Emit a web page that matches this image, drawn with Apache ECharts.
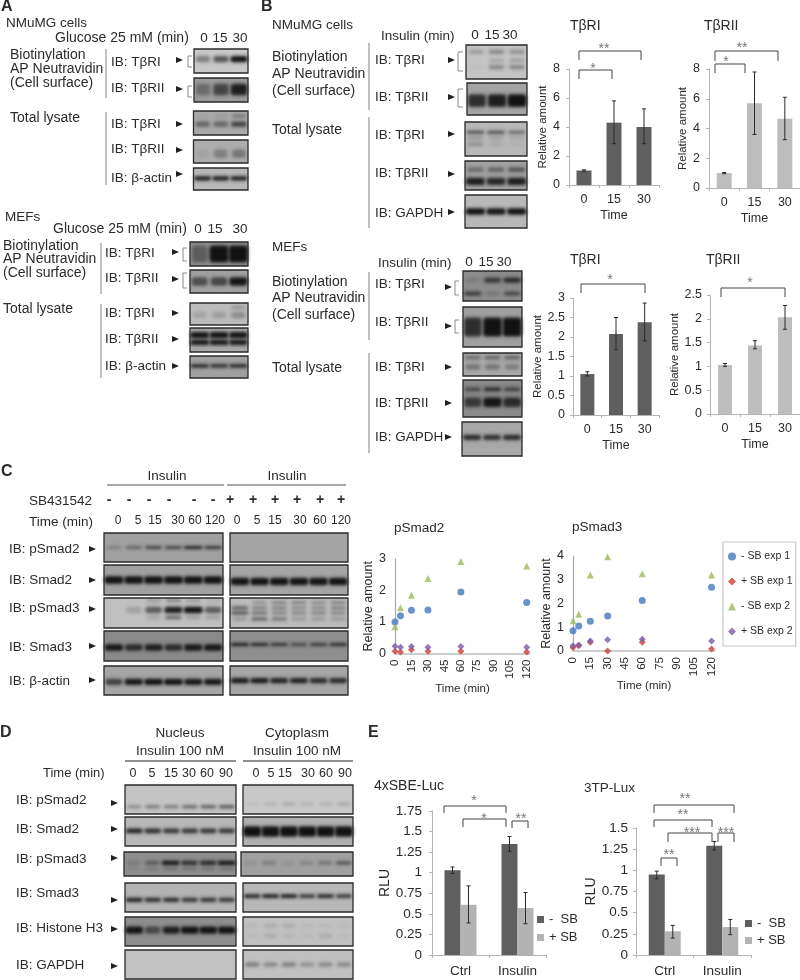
<!DOCTYPE html>
<html><head><meta charset="utf-8">
<style>html,body{margin:0;padding:0;background:#fff}#c{width:800px;height:980px}</style>
<script src="https://cdn.jsdelivr.net/npm/echarts@6/dist/echarts.min.js"></script>
</head><body><div id="c"></div>
<script>
// ---------- chart values ----------
const timeCats = ['0','15','30'];
const nmumgR1 = [1, 4.3, 4.0],      nmumgR1Low = [0.95, 2.85, 2.85], nmumgR1High = [1.05, 5.8, 5.25];
const nmumgR2 = [1, 5.7, 4.65],     nmumgR2Low = [0.96, 3.6, 3.25],  nmumgR2High = [1.04, 7.8, 6.1];
const mefR1 = [1.05, 2.08, 2.38],   mefR1Low = [1.0, 1.67, 1.9],     mefR1High = [1.11, 2.5, 2.87];
const mefR2 = [1.03, 1.44, 2.03],   mefR2Low = [1.0, 1.37, 1.78],    mefR2High = [1.06, 1.54, 2.28];

const smadTimes = [0, 5, 15, 30, 60, 120];
const s2MinusExp1 = [1.0, 1.2, 1.37, 1.38, 1.95, 1.62];
const s2PlusExp1  = [0.07, 0.05, 0.12, 0.07, 0.07, 0.05];
const s2MinusExp2 = [0.85, 1.45, 1.85, 2.38, 2.92, 2.78];
const s2PlusExp2  = [0.23, 0.2, 0.22, 0.2, 0.22, 0.2];
const s3MinusExp1 = [0.85, 1.05, 1.25, 1.47, 2.13, 2.68];
const s3PlusExp1  = [0.15, 0.22, 0.37, 0.0, 0.37, 0.08];
const s3MinusExp2 = [1.27, 1.55, 3.2, 3.97, 3.25, 3.2];
const s3PlusExp2  = [0.22, 0.25, 0.42, 0.47, 0.5, 0.42];
const expNames = ['- SB exp 1', '+ SB exp 1', '- SB exp 2', '+ SB exp 2'];

const rluCats = ['Ctrl', 'Insulin'];
const sbeMinus = [1.03, 1.35], sbeMinusLow = [0.99, 1.26], sbeMinusHigh = [1.07, 1.44];
const sbePlus  = [0.61, 0.57], sbePlusLow  = [0.39, 0.38], sbePlusHigh  = [0.84, 0.76];
const tpMinus  = [0.95, 1.29], tpMinusLow  = [0.9, 1.24],  tpMinusHigh  = [0.99, 1.34];
const tpPlus   = [0.28, 0.33], tpPlusLow   = [0.2, 0.24],  tpPlusHigh   = [0.35, 0.42];
const sbNames = ['-  SB', '+ SB'];

// band intensity read per lane for every blot (row -> lanes)
const bandsA = [
 [[.35,.55,.95]], [[.3,.55,.8]], [[.4,.4,.6],[.05,.1,.3]], [[.05,.25,.3]], [[.85,.85,.85]],
 [[.35,1,1]], [[.5,.55,.85]], [[.12,.15,.25],[0,0,.2]], [[1,1,.95],[1,1,.9]], [[.85,.8,.85]]
];
const bandsB = [
 [[.2,.3,.25],[.02,.15,.2],[.03,.3,.3]], [[.7,.8,.9]], [[.6,.6,.45],[.2,.15,.1],[.25,.1,.05]], [[.8,.75,.8],[.35,.4,.5]], [[.9,.85,.9]],
 [[.1,.6,.7],[.6,.15,.5]], [[.7,.9,.95]], [[.4,.45,.45],[.3,.3,.25]], [[.5,.7,.55],[.6,.85,.7]], [[.75,.7,.75]]
];
const bandsC = [
 [[.2,.4,.6,.6,.85,.7]], [[.95,.95,.95,.95,.95,.95]], [[0,.15,.5,.8,.95,.5],[0,0,.15,.5,.2,.2],[0,0,.2,.3,.2,.1]], [[.85,.7,.8,.7,.85,.85]], [[.6,.85,.95,.95,.85,.85]],
 [], [[.9,.9,.9,.9,.9,.9]], [[0,.2,.3,.3,.25,.3],[.5,.3,.3,.25,.25,.3],[.6,.4,.3,.3,.3,.3],[.2,.5,.4,.2,.2,.2]], [[.85,.8,.7,.55,.65,.75]], [[.85,.85,.8,.8,.75,.75]]
];
const bandsD = [
 [[.3,.4,.4,.5,.55,.6]], [[.8,.75,.7,.7,.7,.7]], [[.15,.35,.95,.7,.75,1],[.1,.2,.3,.3,.3,.3]], [[.8,.75,.75,.7,.7,.7]], [[.9,.5,.8,1,.95,.95]], [],
 [[.05,.1,.15,.1,.1,.15]], [[1,1,1,1,1,1]], [[.1,.25,.1,.2,.3,.5]], [[.8,.85,.85,.7,.8,.7]], [[.05,.12,.12,.04,.04,.04],[.03,.1,.05,.03,.1,.03]], [[.35,.3,.35,.25,.3,.3]]
];

// ---------- layout ----------
const FONT = '"Liberation Sans", Arial, sans-serif';
const INK = '#2b2b2b';
const g = [];
function T(text, x, y, size, o) {
  o = o || {};
  g.push({ type:'text', z:10, style:{ text, x, y, fill:o.fill||INK, fontSize:size, fontFamily:FONT, fontWeight:o.bold?'bold':'normal',
    align:o.align||'left', verticalAlign:'middle', textAlign:o.align||'left', textVerticalAlign:'middle' }});
}
function line(pts, color, w) {
  g.push({ type:'polyline', z:9, shape:{points:pts}, style:{ stroke:color, lineWidth:w||1, fill:null }});
}
function arrow(x, y) {
  g.push({ type:'polygon', z:9, shape:{points:[[x-5,y-3],[x+2,y],[x-5,y+3]]}, style:{fill:'#222'}});
}
function bracket(x1, x2, y1, y2) { line([[x2,y1],[x1,y1],[x1,y2],[x2,y2]], '#8a8a8a', 1); }
function sig(x1, x2, y, yd, stars, sx, sy) {
  line([[x1,yd],[x1,y],[x2,y],[x2,yd]], '#444', 1);
  T(stars, sx, sy+3, 14, {align:'center', fill:'#777'});
}
const OFF = 1500; // the blurred shadow of an off-page shape gives each band its soft edge
function blot(spec, rows) {
  const [x1,y1,x2,y2,bg,geo] = spec;
  const W = x2-x1, H = y2-y1;
  g.push({ type:'rect', z:2, shape:{x:x1,y:y1,width:W,height:H}, style:{fill:bg}});
  rows.forEach((vals,i) => {
    const [fy,h] = geo[i];
    const lane = W/vals.length;
    vals.forEach((v,j) => {
      if (v <= 0) return;
      const bw = lane*(0.68+0.3*v), cx = x1+lane*(j+.5), cy = y1+H*fy, bh = h*1.05;
      g.push({ type:'rect', z:3, shape:{x:cx-bw/2-OFF,y:cy-bh/2,width:bw,height:bh,r:Math.min(bh/2,3)},
        style:{ fill:'#000', shadowBlur:3.5, shadowOffsetX:OFF, shadowColor:'rgba(18,18,18,'+Math.min(1,v*1.15)+')' }});
    });
  });
  g.push({ type:'rect', z:4, shape:{x:x1,y:y1,width:W,height:H}, style:{fill:null, stroke:'#2a2a2a', lineWidth:1.3}});
}
function drawBlots(specs, bands){ specs.forEach((s,i)=>blot(s,bands[i])); }
function lab(list, x, size){ list.forEach(([t,y])=>T(t,x,y,size||13.5)); }
function arrows(x, ys){ ys.forEach(y=>arrow(x,y)); }
function centered(list, y, size){ list.forEach(([t,x])=>T(t,x,y,size||13.5,{align:'center'})); }

const blotSpecsA = [
 [194,49,248,73,'#c8c8c8',[[.42,6]]],[194,78,248,102,'#9a9a9a',[[.48,11]]],[193.5,111,248,135,'#a9a9a9',[[.55,5],[.2,3]]],[193.5,140,248,163,'#adadad',[[.6,8]]],[193.5,168,248,190,'#b8b8b8',[[.47,4]]],
 [190,242,248,266,'#8f8f8f',[[.5,16]]],[190,270,248,293,'#a0a0a0',[[.5,8]]],[190,303,248,325,'#bcbcbc',[[.55,6],[.2,3]]],[190,328,248,352,'#a8a8a8',[[.3,6],[.6,5]]],[190,356,248,378,'#a0a0a0',[[.45,3]]]
];
const blotSpecsB = [
 [466,45,527,79,'#c4c4c4',[[.2,4],[.45,3],[.65,4]]],[467,83,527,115,'#a4a4a4',[[.55,12]]],[465,122,527,156,'#b8b8b8',[[.3,3],[.47,3],[.65,3]]],[465,161,527,190,'#a0a0a0',[[.7,7],[.3,4]]],[465,195,527,228,'#b8b8b8',[[.5,6]]],
 [463,271,522,301,'#8c8c8c',[[.3,5],[.75,4]]],[463,307,522,347,'#a0a0a0',[[.5,18]]],[463,353,522,376,'#a8a8a8',[[.2,3],[.6,5]]],[463,380,522,417,'#8a8a8a',[[.25,4],[.6,9]]],[462,422,522,456,'#a8a8a8',[[.45,5]]]
];
const blotSpecsC = [
 [104,533,223,562,'#a0a0a0',[[.5,3]]],[104,565,223,595,'#a0a0a0',[[.5,7]]],[104,598,223,628,'#c0c0c0',[[.4,6],[.65,3],[.08,3]]],[104,631,223,661,'#8a8a8a',[[.55,6]]],[104,666,223,695,'#a5a5a5',[[.55,6]]],
 [230,533,348,562,'#a4a4a4',[]],[230,565,348,595,'#a5a5a5',[[.55,7]]],[230,598,348,628,'#bbbbbb',[[.15,3],[.33,3],[.5,3],[.7,3]]],[230,631,348,661,'#8f8f8f',[[.45,3]]],[230,666,348,695,'#a5a5a5',[[.5,5]]]
];
const blotSpecsD = [
 [125,785,236,814,'#c4c4c4',[[.75,3]]],[125,817,236,846,'#b8b8b8',[[.48,4.5]]],[124,852,236,876,'#8e8e8e',[[.45,4],[.7,2]]],[125,883,236,912,'#b4b4b4',[[.58,4]]],[125,917,236,946,'#8e8e8e',[[.45,7]]],[125,950,236,979,'#c2c2c2',[]],
 [243,785,353,814,'#c8c8c8',[[.65,3]]],[243,817,353,846,'#b0b0b0',[[.5,10]]],[241,852,353,876,'#a0a0a0',[[.45,3]]],[243,883,353,912,'#b8b8b8',[[.45,3.5]]],[243,917,353,946,'#c0c0c0',[[.3,3],[.65,4]]],[243,950,353,979,'#c0c0c0',[[.5,4]]]
];
drawBlots(blotSpecsA,bandsA); drawBlots(blotSpecsB,bandsB); drawBlots(blotSpecsC,bandsC); drawBlots(blotSpecsD,bandsD);

// Panel letters
T('A',1,7,16,{bold:true}); T('B',261,7,16,{bold:true}); T('C',1,472,16,{bold:true}); T('D',0,733,16,{bold:true}); T('E',368,733,16,{bold:true});

// Panel A
T('NMuMG cells',6,23,13.5);
T('Glucose 25 mM (min)',55,38,14);
centered([['0',204],['15',220],['30',240]],38);
lab([['Biotinylation',55],['AP Neutravidin',69],['(Cell surface)',83]],10,14);
lab([['IB: TβRI',62],['IB: TβRII',88],['IB: TβRI',124],['IB: TβRII',149],['IB: β-actin',178]],111);
T('Total lysate',10,118,14);
line([[106,49],[106,98]],'#999',1.2); line([[106,112],[106,185]],'#999',1.2);
arrows(181,[60,89,124,150,174]);
bracket(188,192,56,67); bracket(188,192,86,97);

T('MEFs',5,217,13.5);
T('Glucose 25 mM (min)',53,229,14);
centered([['0',198],['15',215],['30',240]],229);
lab([['Biotinylation',246],['AP Neutravidin',259],['(Cell surface)',273],['Total lysate',309]],3,14);
lab([['IB: TβRI',253],['IB: TβRII',278],['IB: TβRI',313],['IB: TβRII',339],['IB: β-actin',366]],105);
line([[101,243],[101,294]],'#999',1.2); line([[101,304],[101,378]],'#999',1.2);
arrows(177,[252,279,313,339,366]);
bracket(183,187,248,261); bracket(183,187,273,288);

// Panel B
T('NMuMG cells',272,25,13.5);
T('Insulin (min)',381,36,13.5);
centered([['0',475],['15',492],['30',510]],35);
lab([['Biotinylation',57],['AP Neutravidin',74],['(Cell surface)',91],['Total lysate',130]],272,14);
lab([['IB: TβRI',60],['IB: TβRII',97],['IB: TβRI',135],['IB: TβRII',173],['IB: GAPDH',213]],375);
line([[369,43],[369,110]],'#999',1.2); line([[369,117],[369,228]],'#999',1.2);
arrows(453,[60,97,134,174,212]);
bracket(458,463,52,71); bracket(458,463,89,107);

T('MEFs',272,247,13.5);
T('Insulin (min)',378,263,13.5);
centered([['0',469],['15',486],['30',504]],262);
lab([['Biotinylation',282],['AP Neutravidin',298],['(Cell surface)',315],['Total lysate',368]],272,14);
lab([['IB: TβRI',284],['IB: TβRII',322],['IB: TβRI',367],['IB: TβRII',403],['IB: GAPDH',437]],375);
line([[369,272],[369,340]],'#999',1.2); line([[369,353],[369,453]],'#999',1.2);
arrows(450,[287,326,367,403,437]);
bracket(455,459,281,295); bracket(455,459,320,333);

// Panel C
T('Insulin',167,476,13.5,{align:'center'}); T('Insulin',287,476,13.5,{align:'center'});
line([[107,485],[224,485]],'#555',1.2); line([[227,485],[346,485]],'#555',1.2);
T('SB431542',29,501,13.5); T('Time (min)',29,522,13.5);
[109,129,149,169,194,213].forEach(x=>T('-',x,500,14,{align:'center',bold:true}));
[230,253,275,297,320,341].forEach(x=>T('+',x,500,14,{align:'center',bold:true}));
centered([['0',118],['5',138],['15',155],['30',178],['60',195],['120',215],['0',237],['5',257],['15',275],['30',300],['60',320],['120',341]],521,12);
lab([['IB: pSmad2',549],['IB: Smad2',580],['IB: pSmad3',608],['IB: Smad3',647],['IB: β-actin',681]],9,13.5);
arrows(94,[549,580,609,646,680]);

// Panel D
T('Nucleus',180,733,13.5,{align:'center'}); T('Insulin 100 nM',180,751,13.5,{align:'center'});
T('Cytoplasm',297,733,13.5,{align:'center'}); T('Insulin 100 nM',297,751,13.5,{align:'center'});
line([[125,761],[236,761]],'#222',1.1); line([[243,761],[353,761]],'#222',1.1);
T('Time (min)',43,773,13);
centered([['0',133],['5',152],['15',171],['30',189],['60',207],['90',226],['0',256],['5',271],['15',285],['30',308],['60',326],['90',345]],774,12.5);
lab([['IB: pSmad2',800],['IB: Smad2',829],['IB: pSmad3',859],['IB: Smad3',893],['IB: Histone H3',928],['IB: GAPDH',965]],16,13.5);
arrows(116,[803,829,858,900,929,966]);

// Titles
T('TβRI',570,26,14); T('TβRII',704,26,14); T('TβRI',570,260,14); T('TβRII',706,260,14);
T('pSmad2',394,528,13.5); T('pSmad3',572,527,13.5);
T('4xSBE-Luc',374,786,14); T('3TP-Lux',584,788,13.5);

// Significance
sig(579,641,51,60,'**',604,46); sig(579,612,70,79,'*',593,66);
sig(715,778,51,61,'**',742,45); sig(715,745,64,73,'*',726,59);
sig(581,645,284,293,'*',610,277); sig(721,785,288,297,'*',750,280);
sig(444,506,806,813,'*',474,798); sig(463,506,819,827,'*',484,816); sig(512,528,821,828,'**',521,816);
sig(654,734,805,813,'**',685,796); sig(654,712,820,827,'**',683,812); sig(668,712,833,842,'***',692,830);
sig(718,734,833,842,'***',726,830); sig(661,677,858,866,'**',669,852);

// ---------- charts ----------
const grid=[], xAxis=[], yAxis=[], series=[];
const AX='#b5b5b5';
function addBarGrid(box, cats, ymax, step, yName, opts) {
  const i = grid.length, [left,top,width,height] = box;
  grid.push({left,top,width,height});
  xAxis.push({ type:'category', gridIndex:i, data:cats, axisLine:{lineStyle:{color:AX}}, axisTick:{show:true,length:3,lineStyle:{color:AX}},
    axisLabel:{color:INK,fontFamily:FONT,fontSize:opts.fs,margin:opts.xm}, name:opts.xName||'', nameLocation:'middle', nameGap:opts.xGap||24,
    nameTextStyle:{color:INK,fontFamily:FONT,fontSize:opts.nameFs||12.5}});
  yAxis.push({ type:'value', gridIndex:i, min:0, max:ymax, interval:step, splitLine:{show:false}, axisLine:{show:true,lineStyle:{color:AX}},
    axisTick:{show:true,length:3,lineStyle:{color:AX}}, axisLabel:{color:INK,fontFamily:FONT,fontSize:opts.fs,margin:opts.ym},
    name:yName, nameLocation:'middle', nameGap:opts.yGap, nameTextStyle:{color:INK,fontFamily:FONT,fontSize:opts.yFs||11.5}});
  return i;
}
function errBar(i, low, high, offset) {
  series.push({ type:'custom', xAxisIndex:i, yAxisIndex:i, silent:true, clip:false, z:5,
    data: low.map((v,k)=>[k,v,high[k]]), encode:{x:0,y:[1,2]},
    renderItem:(p,api)=>{
      const a=api.coord([api.value(0),api.value(1)]), b=api.coord([api.value(0),api.value(2)]);
      const x=a[0]+offset, c=2, st={stroke:'#2a2a2a',lineWidth:1,fill:null};
      return {type:'group',children:[
        {type:'line',shape:{x1:x,y1:a[1],x2:x,y2:b[1]},style:st},
        {type:'line',shape:{x1:x-c,y1:a[1],x2:x+c,y2:a[1]},style:st},
        {type:'line',shape:{x1:x-c,y1:b[1],x2:x+c,y2:b[1]},style:st}]};
    }});
}
function simpleBars(box, vals, low, high, color, ymax, step, bw, yGap, ym) {
  const i = addBarGrid(box,timeCats,ymax,step,'Relative amount',{fs:12.5,xm:8,ym,xName:'Time',xGap:24,yGap});
  series.push({type:'bar',xAxisIndex:i,yAxisIndex:i,data:vals,barWidth:bw,itemStyle:{color}});
  errBar(i,low,high,0);
}
const DARK='#5f5f5f', LIGHT='#bdbdbd';
simpleBars([569,69,90,116],nmumgR1,nmumgR1Low,nmumgR1High,DARK,8,2,15,20,9);
simpleBars([709,69,91,119],nmumgR2,nmumgR2Low,nmumgR2High,LIGHT,8,2,15,20,9);
simpleBars([573,298,86,117],mefR1,mefR1Low,mefR1High,DARK,3,0.5,14,28,8);
simpleBars([710,295,90,119],mefR2,mefR2Low,mefR2High,LIGHT,2.5,0.5,14,28,8);

function groupBars(box, a, aL, aH, b, bL, bH, yGap, ym) {
  const i = addBarGrid(box,rluCats,box[4],0.25,'RLU',{fs:13.5,xm:9,ym,yGap,yFs:14});
  series.push({type:'bar',name:sbNames[0],xAxisIndex:i,yAxisIndex:i,data:a,barWidth:16,barGap:'0%',itemStyle:{color:DARK}});
  series.push({type:'bar',name:sbNames[1],xAxisIndex:i,yAxisIndex:i,data:b,barWidth:16,barGap:'0%',itemStyle:{color:'#b3b3b3'}});
  errBar(i,aL,aH,-8); errBar(i,bL,bH,8);
}
groupBars([432,811,114,144,1.75],sbeMinus,sbeMinusLow,sbeMinusHigh,sbePlus,sbePlusLow,sbePlusHigh,40,10);
groupBars([636,828,115,127,1.5],tpMinus,tpMinusLow,tpMinusHigh,tpPlus,tpPlusLow,tpPlusHigh,34,8);

const expStyle=[['circle','#4578be',7],['diamond','#cf3f3c',7],['triangle','#9bbb59',7],['diamond','#7a5ba6',7]];
function addScatter(box, ymax, arrs, nameGap, yGap) {
  const i=grid.length,[left,top,width,height]=box;
  grid.push({left,top,width,height});
  xAxis.push({type:'value',gridIndex:i,min:0,max:123,interval:15,splitLine:{show:false},axisLine:{onZero:false,lineStyle:{color:'#bdbdbd',width:1.5}},axisTick:{show:false},
    axisLabel:{color:INK,fontFamily:FONT,fontSize:11.5,rotate:90,margin:6,showMaxLabel:false,showMinLabel:true},
    name:'Time (min)',nameLocation:'middle',nameGap,nameTextStyle:{color:INK,fontFamily:FONT,fontSize:11.5}});
  yAxis.push({type:'value',gridIndex:i,min:0,max:ymax,interval:1,splitLine:{show:false},axisLine:{show:true,lineStyle:{color:'#a8a8a8',width:1.2}},axisTick:{show:false},
    axisLabel:{color:INK,fontFamily:FONT,fontSize:12.5,margin:9},name:'Relative amount',nameLocation:'middle',nameGap:yGap,nameTextStyle:{color:INK,fontFamily:FONT,fontSize:12.5}});
  arrs.forEach((vals,k)=>{
    series.push({type:'scatter',name:expNames[k],xAxisIndex:i,yAxisIndex:i,clip:false,symbol:expStyle[k][0],symbolSize:expStyle[k][2],itemStyle:{color:expStyle[k][1]},
      data:vals.map((v,j)=>[smadTimes[j],v])});
  });
}
addScatter([395,559,135,94.5],3,[s2MinusExp1,s2PlusExp1,s2MinusExp2,s2PlusExp2],18,20);
addScatter([573,556,142,95],4,[s3MinusExp1,s3PlusExp1,s3MinusExp2,s3PlusExp2],20,18);

const legendText={color:INK,fontFamily:FONT};
const legend=[
 {data:expNames.map((n,k)=>({name:n,icon:expStyle[k][0]})),orient:'vertical',left:723,top:542,itemWidth:8,itemHeight:8,itemGap:14,padding:[9,3,9,5],selectedMode:false,
  borderColor:'#c8c8c8',borderWidth:1.2,textStyle:{...legendText,fontSize:10.5},z:6},
 {data:sbNames.map(n=>({name:n,icon:'rect'})),orient:'vertical',left:537,top:913,itemWidth:7,itemHeight:7,itemGap:5,padding:0,selectedMode:false,textStyle:{...legendText,fontSize:13}},
 {data:sbNames.map(n=>({name:n,icon:'rect'})),orient:'vertical',left:745,top:917,itemWidth:7,itemHeight:7,itemGap:4,padding:0,selectedMode:false,textStyle:{...legendText,fontSize:13}}
];

const chart=echarts.init(document.getElementById('c'),null,{renderer:'canvas',width:800,height:980});
chart.setOption({animation:false,backgroundColor:'#fff',textStyle:{fontFamily:FONT},grid,xAxis,yAxis,series,legend,graphic:{elements:g}});
</script></body></html>
